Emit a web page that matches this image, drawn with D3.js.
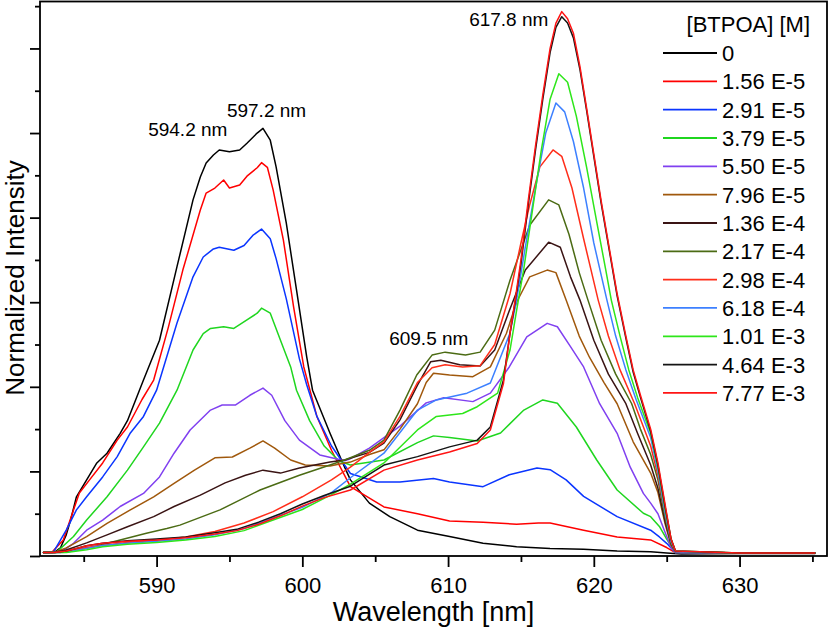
<!DOCTYPE html>
<html>
<head>
<meta charset="utf-8">
<script src="https://cdn.jsdelivr.net/npm/d3@7"></script>
<style>
body{margin:0;background:#fff;}
svg{display:block;font-family:"Liberation Sans",Arial,sans-serif;}
</style>
</head>
<body>
<div class="chart_container"></div>
<script>
// concentrations of BTPOA (legend)
var labels = ["0","1.56 E-5","2.91 E-5","3.79 E-5","5.50 E-5","7.96 E-5","1.36 E-4","2.17 E-4","2.98 E-4","6.18 E-4","1.01 E-3","4.64 E-3","7.77 E-3"];
var colors = ["#000000","#ff0000","#0a35ff","#1fd61f","#8040f0","#a0580c","#3a1414","#4b6b14","#ff2e1a","#3d80ff","#2ee61a","#141414","#ff1414"];

// spectra: [wavelength nm, normalized intensity]
var s0 = [[582.2,0.008],[583.0,0.009],[583.4,0.019],[583.8,0.05],[584.1,0.085],[584.5,0.14],[585.2,0.18],[585.9,0.22],[586.6,0.243],[587.5,0.29],[588.0,0.32],[589.1,0.416],[590.2,0.51],[591.4,0.684],[592.5,0.842],[593.0,0.896],[593.4,0.929],[593.9,0.948],[594.3,0.96],[595.0,0.956],[595.7,0.96],[596.2,0.976],[596.9,1.0],[597.3,1.011],[597.8,0.983],[598.2,0.92],[598.9,0.787],[599.6,0.629],[600.3,0.471],[600.7,0.392],[601.9,0.29],[602.9,0.21],[603.3,0.18],[604.6,0.125],[606.0,0.093],[607.9,0.061],[610.1,0.046],[612.4,0.03],[614.7,0.022],[617.0,0.018],[619.3,0.016],[621.6,0.012],[623.9,0.01],[625.0,0.007],[626.0,0.005],[630.0,0.006],[635.2,0.006]];
var s1 = [[582.2,0.008],[582.8,0.008],[583.6,0.038],[584.3,0.109],[584.7,0.149],[585.4,0.18],[586.3,0.22],[587.3,0.274],[588.0,0.305],[589.0,0.37],[589.8,0.416],[590.8,0.54],[591.8,0.676],[593.0,0.818],[593.4,0.858],[594.0,0.87],[594.6,0.889],[595.0,0.87],[595.7,0.877],[596.2,0.898],[596.9,0.918],[597.2,0.93],[597.6,0.919],[598.0,0.865],[598.7,0.747],[599.4,0.589],[600.1,0.447],[601.0,0.33],[602.0,0.25],[603.3,0.164],[605.6,0.116],[607.9,0.1],[610.1,0.083],[612.4,0.08],[614.7,0.075],[616.2,0.078],[617.0,0.078],[619.3,0.061],[621.6,0.045],[623.9,0.038],[625.0,0.02],[625.6,0.008],[630.0,0.007],[635.2,0.007]];
var s2 = [[582.2,0.008],[582.9,0.008],[583.8,0.061],[584.5,0.109],[585.2,0.14],[586.3,0.187],[587.3,0.235],[588.2,0.291],[589.1,0.33],[590.0,0.392],[591.4,0.551],[592.5,0.66],[593.2,0.707],[593.9,0.726],[594.3,0.73],[595.3,0.723],[596.0,0.734],[596.6,0.758],[597.2,0.773],[597.8,0.75],[598.2,0.703],[598.9,0.608],[599.8,0.466],[600.3,0.405],[601.0,0.33],[602.0,0.26],[603.3,0.195],[605.1,0.175],[606.7,0.175],[609.0,0.183],[610.1,0.175],[612.4,0.164],[614.2,0.192],[616.1,0.208],[617.0,0.204],[618.1,0.18],[619.3,0.141],[621.6,0.093],[623.9,0.061],[624.5,0.045],[625.0,0.03],[625.6,0.008],[630.0,0.007],[635.2,0.007]];
var s3 = [[582.2,0.008],[583.1,0.008],[584.3,0.046],[585.2,0.085],[586.6,0.14],[588.0,0.203],[589.1,0.258],[590.2,0.314],[591.4,0.392],[592.5,0.487],[593.2,0.526],[593.7,0.538],[594.6,0.542],[595.3,0.538],[596.2,0.558],[596.9,0.574],[597.2,0.586],[597.8,0.574],[598.5,0.51],[599.2,0.447],[599.6,0.392],[600.5,0.32],[601.5,0.26],[602.5,0.225],[603.3,0.215],[605.6,0.227],[607.9,0.268],[609.0,0.284],[610.1,0.28],[612.0,0.272],[613.6,0.291],[615.2,0.345],[616.5,0.369],[617.5,0.361],[618.8,0.305],[620.2,0.227],[621.6,0.156],[623.4,0.101],[623.9,0.093],[624.5,0.07],[625.0,0.04],[625.6,0.008],[630.0,0.007],[635.2,0.007]];
var s4 = [[582.2,0.008],[583.4,0.008],[584.3,0.03],[585.2,0.061],[586.3,0.085],[587.5,0.117],[589.1,0.148],[590.2,0.187],[591.2,0.243],[592.3,0.298],[593.7,0.345],[594.5,0.357],[595.4,0.357],[596.4,0.38],[597.3,0.397],[597.9,0.38],[598.8,0.32],[599.8,0.274],[601.2,0.239],[602.9,0.225],[603.3,0.23],[604.6,0.255],[606.7,0.307],[608.5,0.362],[609.7,0.374],[611.7,0.365],[612.9,0.385],[614.2,0.447],[615.4,0.518],[616.8,0.55],[617.5,0.542],[618.4,0.495],[619.3,0.447],[620.4,0.36],[621.6,0.29],[622.5,0.21],[623.4,0.148],[623.9,0.125],[624.4,0.1],[624.9,0.055],[625.3,0.02],[625.6,0.008],[630.0,0.007],[635.2,0.007]];
var s5 = [[582.2,0.008],[583.0,0.009],[583.8,0.019],[585.2,0.046],[586.6,0.077],[588.2,0.109],[589.8,0.14],[591.2,0.172],[592.6,0.203],[594.0,0.232],[595.2,0.234],[596.4,0.255],[597.3,0.272],[598.1,0.255],[599.2,0.227],[600.2,0.215],[601.9,0.213],[602.9,0.22],[603.3,0.222],[604.6,0.24],[605.6,0.251],[606.7,0.3],[607.9,0.36],[608.5,0.41],[609.0,0.432],[610.1,0.428],[611.7,0.424],[612.9,0.447],[614.0,0.526],[614.7,0.6],[615.6,0.66],[616.8,0.676],[617.4,0.67],[618.1,0.605],[619.0,0.52],[619.7,0.47],[620.7,0.41],[621.6,0.36],[622.7,0.27],[623.9,0.196],[624.4,0.15],[624.9,0.075],[625.3,0.025],[625.6,0.01],[630.0,0.007],[635.2,0.007]];
var s6 = [[582.2,0.008],[583.0,0.009],[583.8,0.014],[585.2,0.031],[586.6,0.05],[588.0,0.069],[589.8,0.093],[591.2,0.117],[593.0,0.144],[594.7,0.173],[596.1,0.191],[597.3,0.203],[598.5,0.196],[599.8,0.208],[601.9,0.222],[602.9,0.227],[604.6,0.245],[605.6,0.267],[606.7,0.322],[607.9,0.404],[608.8,0.459],[609.5,0.463],[610.8,0.452],[612.2,0.449],[613.2,0.487],[614.2,0.58],[615.3,0.676],[616.9,0.742],[617.7,0.73],[618.4,0.66],[619.05,0.605],[620.0,0.51],[621.0,0.43],[622.2,0.36],[623.0,0.29],[623.9,0.215],[624.4,0.16],[624.9,0.08],[625.3,0.03],[625.6,0.01],[630.0,0.007],[635.2,0.007]];
var s7 = [[582.2,0.008],[583.0,0.009],[583.8,0.01],[585.7,0.022],[587.5,0.038],[589.3,0.054],[590.7,0.065],[591.6,0.073],[594.35,0.109],[597.1,0.156],[599.8,0.191],[601.9,0.215],[602.9,0.227],[604.6,0.25],[605.6,0.274],[606.7,0.345],[607.85,0.428],[608.9,0.475],[609.8,0.482],[611.2,0.475],[612.2,0.482],[613.2,0.534],[614.25,0.652],[615.6,0.782],[616.9,0.842],[617.6,0.83],[618.3,0.76],[619.0,0.67],[619.6,0.605],[620.5,0.51],[621.5,0.43],[622.6,0.36],[623.2,0.3],[623.9,0.24],[624.4,0.18],[624.9,0.09],[625.3,0.03],[625.6,0.01],[630.0,0.007],[635.2,0.007]];
var s8 = [[582.2,0.008],[583.0,0.008],[583.8,0.01],[585.2,0.02],[586.5,0.026],[588.0,0.032],[590.0,0.037],[592.0,0.045],[594.0,0.058],[596.0,0.078],[598.0,0.105],[600.0,0.14],[602.0,0.18],[603.3,0.21],[604.6,0.245],[605.6,0.27],[606.7,0.33],[607.9,0.41],[608.9,0.445],[609.8,0.452],[611.0,0.447],[612.2,0.45],[613.2,0.5],[614.25,0.62],[615.0,0.74],[615.6,0.83],[616.3,0.92],[617.2,0.96],[617.8,0.945],[618.5,0.87],[619.3,0.75],[620.3,0.605],[621.0,0.52],[621.8,0.44],[622.8,0.36],[623.9,0.26],[624.4,0.19],[624.9,0.1],[625.3,0.035],[625.6,0.01],[630.0,0.007],[635.2,0.007]];
var s9 = [[582.2,0.008],[583.0,0.008],[583.8,0.009],[585.2,0.018],[586.3,0.025],[588.0,0.03],[590.0,0.035],[592.0,0.04],[594.0,0.05],[596.0,0.065],[598.0,0.09],[600.0,0.115],[602.0,0.15],[603.3,0.185],[605.6,0.243],[607.9,0.345],[609.2,0.369],[611.3,0.385],[612.9,0.409],[614.25,0.527],[614.7,0.605],[615.3,0.73],[616.0,0.87],[616.7,1.0],[617.4,1.071],[618.0,1.05],[618.6,0.98],[619.3,0.87],[620.0,0.74],[620.9,0.605],[621.5,0.52],[622.2,0.44],[622.9,0.37],[623.9,0.28],[624.4,0.2],[624.9,0.1],[625.3,0.035],[625.6,0.01],[630.0,0.007],[635.2,0.007]];
var s10 = [[582.2,0.008],[583.0,0.008],[583.8,0.008],[585.2,0.015],[586.3,0.022],[588.0,0.028],[590.0,0.032],[592.0,0.038],[594.0,0.046],[596.0,0.06],[598.0,0.085],[600.0,0.11],[602.0,0.145],[603.3,0.17],[605.6,0.22],[607.9,0.298],[609.2,0.33],[611.0,0.337],[612.0,0.353],[613.4,0.385],[614.25,0.487],[614.7,0.58],[615.2,0.68],[615.8,0.82],[616.4,0.96],[617.0,1.08],[617.6,1.14],[618.2,1.12],[618.8,1.04],[619.5,0.92],[620.2,0.79],[620.8,0.68],[621.2,0.605],[621.8,0.52],[622.4,0.44],[623.0,0.375],[623.9,0.29],[624.4,0.21],[624.9,0.11],[625.3,0.04],[625.6,0.012],[630.0,0.007],[635.2,0.007]];
var s11 = [[582.2,0.008],[583.0,0.008],[583.8,0.012],[584.5,0.018],[585.2,0.024],[586.3,0.03],[588.0,0.036],[590.0,0.04],[592.0,0.045],[594.0,0.055],[595.5,0.063],[597.0,0.08],[598.5,0.1],[600.0,0.123],[601.5,0.143],[603.3,0.165],[605.6,0.215],[607.9,0.235],[610.1,0.258],[612.0,0.274],[612.9,0.305],[613.8,0.416],[614.25,0.527],[614.6,0.6],[615.0,0.69],[615.5,0.83],[616.0,0.96],[616.5,1.08],[617.0,1.19],[617.4,1.25],[617.8,1.275],[618.2,1.26],[618.6,1.225],[619.05,1.15],[619.5,1.055],[620.0,0.945],[620.5,0.835],[621.0,0.735],[621.6,0.615],[622.2,0.515],[622.7,0.435],[623.2,0.375],[623.9,0.295],[624.4,0.215],[624.9,0.115],[625.3,0.04],[625.6,0.012],[630.0,0.007],[635.2,0.007]];
var s12 = [[582.2,0.008],[583.0,0.008],[583.8,0.012],[584.5,0.018],[585.2,0.024],[586.3,0.03],[588.0,0.035],[590.0,0.038],[592.0,0.043],[594.0,0.052],[595.5,0.06],[597.0,0.075],[598.5,0.095],[600.0,0.118],[601.5,0.138],[603.3,0.156],[605.6,0.203],[607.9,0.227],[610.1,0.246],[612.0,0.266],[612.9,0.298],[613.8,0.408],[614.25,0.527],[614.6,0.605],[615.0,0.7],[615.5,0.84],[616.0,0.97],[616.5,1.09],[617.0,1.2],[617.4,1.26],[617.8,1.287],[618.2,1.27],[618.6,1.236],[619.05,1.157],[619.5,1.06],[620.0,0.95],[620.5,0.84],[621.0,0.74],[621.6,0.62],[622.2,0.52],[622.7,0.44],[623.2,0.38],[623.9,0.3],[624.4,0.22],[624.9,0.12],[625.3,0.04],[625.6,0.012],[630.0,0.007],[635.2,0.007]];
var spectra = [s0,s1,s2,s3,s4,s5,s6,s7,s8,s9,s10,s11,s12];

// axis ticks
var xMajor = [590,600,610,620,630];
var xMinor = [585,595,605,615,625,635];
var yMajor = [0,0.2,0.4,0.6,0.8,1.0,1.2];
var yMinor = [0.1,0.3,0.5,0.7,0.9,1.1,1.3];

// peak annotations
var peakText = ["594.2 nm","597.2 nm","609.5 nm","617.8 nm"];
var peakWl = [594.2,597.2,609.5,617.8];
var peakVal = [0.96,1.011,0.482,1.287];

var W = 829, H = 633;
var svg = d3.select(".chart_container").append("svg")
    .attr("width",W)
    .attr("height",H);

var x = d3.scaleLinear().domain([582,636]).range([40,827]);
var y = d3.scaleLinear().domain([0,1.311]).range([556,1.5]);

var line = d3.line()
    .x(function(d){return x(d[0]);})
    .y(function(d){return y(d[1]);});

svg.append("g").selectAll("path")
    .data(spectra)
    .enter().append("path")
    .attr("d",line)
    .attr("fill","none")
    .attr("stroke",function(d,i){return colors[i];})
    .attr("stroke-width",1.5)
    .attr("stroke-linejoin","round");

// axes
var xAx = svg.append("g").attr("transform","translate(0,556)")
    .call(d3.axisBottom(x).tickValues(xMajor).tickSize(11).tickPadding(10).tickFormat(d3.format("d")));
svg.append("g").attr("transform","translate(0,556)")
    .call(d3.axisBottom(x).tickValues(xMinor).tickSize(6).tickFormat(""));
svg.append("g").attr("transform","translate(40,0)")
    .call(d3.axisLeft(y).tickValues(yMajor).tickSize(10).tickFormat(""));
svg.append("g").attr("transform","translate(40,0)")
    .call(d3.axisLeft(y).tickValues(yMinor).tickSize(5).tickFormat(""));
svg.selectAll(".domain").remove();
svg.selectAll(".tick line").attr("stroke","#000").attr("stroke-width",1.8);
xAx.selectAll("text").attr("font-size",22).attr("fill","#000")
    .attr("font-family","'Liberation Sans',Arial,sans-serif");

svg.append("rect")
    .attr("x",40).attr("y",1.5)
    .attr("width",787).attr("height",554.5)
    .attr("fill","none")
    .attr("stroke","#000")
    .attr("stroke-width",1.8);

svg.append("text")
    .attr("x",433.5).attr("y",621)
    .attr("text-anchor","middle")
    .attr("font-size",27)
    .text("Wavelength [nm]");
svg.append("text")
    .attr("transform","translate(24,278) rotate(-90)")
    .attr("text-anchor","middle")
    .attr("font-size",26)
    .text("Normalized Intensity");

// annotations, offsets in px from the peak
var off = [[-30,-14],[5,-11],[-12,-7],[-53,14]];
svg.append("g").selectAll("text")
    .data(peakText)
    .enter().append("text")
    .attr("x",function(d,i){return x(peakWl[i])+off[i][0];})
    .attr("y",function(d,i){return y(peakVal[i])+off[i][1];})
    .attr("text-anchor","middle")
    .attr("font-size",19)
    .text(function(d){return d;});

// legend
var legend = svg.append("g");
legend.append("text")
    .attr("x",810).attr("y",32)
    .attr("text-anchor","end")
    .attr("font-size",22)
    .text("[BTPOA] [M]");
var row = legend.selectAll(".row")
    .data(labels)
    .enter().append("g")
    .attr("class","row")
    .attr("transform",function(d,i){return "translate(0,"+(53+i*28.33)+")";});
row.append("line")
    .attr("x1",663).attr("x2",717)
    .attr("stroke",function(d,i){return colors[i];})
    .attr("stroke-width",1.8);
row.append("text")
    .attr("x",722).attr("dy","0.36em")
    .attr("font-size",22)
    .text(function(d){return d;});
</script>
</body>
</html>
